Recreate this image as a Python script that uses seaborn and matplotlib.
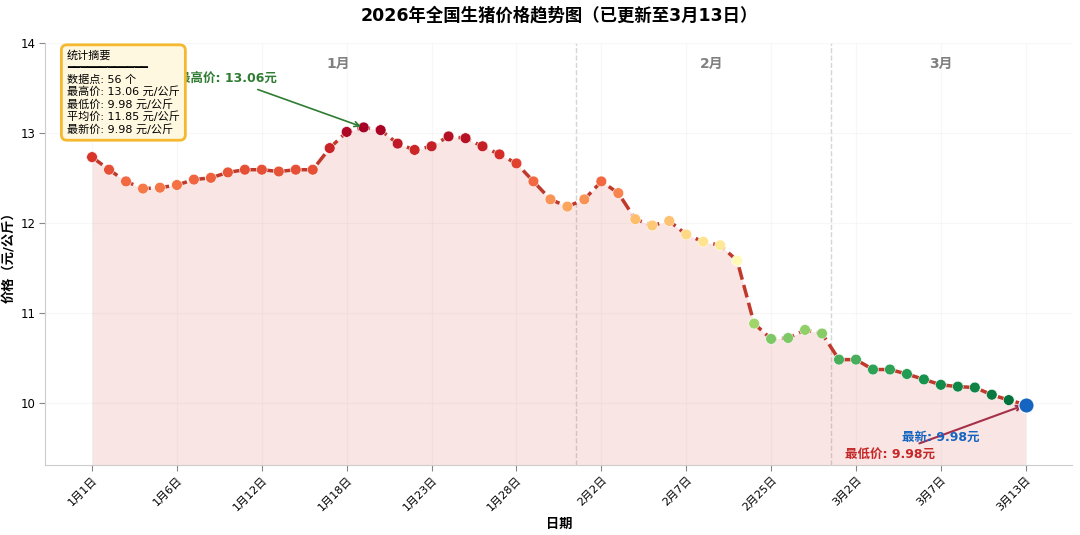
import numpy as np
import pandas as pd
import seaborn as sns
import matplotlib.pyplot as plt

# 数据
months = [1] * 29 + [2] * 15 + [3] * 12
days = [1, 2, 3, 4, 5, 6, 7, 8, 9, 10, 12, 13, 14, 15, 16, 18, 19, 20, 21, 22,
        23, 24, 25, 26, 27, 28, 29, 30, 31,
        1, 2, 3, 4, 5, 6, 7, 8, 9, 10, 24, 25, 26, 27, 28,
        1, 2, 3, 4, 5, 6, 7, 8, 9, 10, 11, 13]
prices = [12.73, 12.59, 12.46, 12.38, 12.39, 12.42, 12.48, 12.50, 12.56, 12.59,
          12.59, 12.57, 12.59, 12.59, 12.83, 13.01, 13.06, 13.03, 12.88, 12.81,
          12.85, 12.96, 12.94, 12.85, 12.76, 12.66, 12.46, 12.26, 12.18, 12.26,
          12.46, 12.33, 12.04, 11.97, 12.02, 11.87, 11.79, 11.75, 11.58, 10.88,
          10.71, 10.72, 10.81, 10.77, 10.48, 10.48, 10.37, 10.37, 10.32, 10.26,
          10.20, 10.18, 10.17, 10.09, 10.03, 9.98]
month_names = ['1月', '2月', '3月']

df = pd.DataFrame({
    'idx': np.arange(len(prices)),
    'price': prices,
    'label': [f'{m}月{d}日' for m, d in zip(months, days)],
    'month': months,
})

sns.set_style('white')
plt.rcParams['font.family'] = ['DejaVu Sans', 'Noto Sans CJK SC']
plt.rcParams['axes.unicode_minus'] = False
for k in ['text.color', 'axes.labelcolor', 'xtick.color', 'ytick.color']:
    plt.rcParams[k] = 'black'

fig, ax = plt.subplots(figsize=(10.8, 5.35), dpi=100)
fig.subplots_adjust(left=0.042, right=0.993, top=0.92, bottom=0.131)

ymin, ymax = 9.31, 14.0
pmax, pmin = df['price'].max(), df['price'].min()

ax.fill_between(df['idx'], df['price'], ymin, color='#D9534F', alpha=0.15, lw=0, zorder=1)
sns.lineplot(data=df, x='idx', y='price', ax=ax, color='#C0392B', lw=2.5,
             linestyle='--', zorder=2)
sns.scatterplot(data=df.iloc[:-1], x='idx', y='price', hue='price', palette='RdYlGn_r',
                hue_norm=(pmin, pmax), s=60, edgecolor='white', linewidth=0.4,
                legend=False, ax=ax, zorder=3)
last = df.iloc[-1]
ax.scatter([last['idx']], [last['price']], s=120, color='#1565C0', edgecolor='white',
           linewidth=0.8, zorder=4)

# 月份分隔与标签
for m in month_names[1:]:
    mi = int(m[0])
    ax.axvline(df.loc[df['month'] == mi, 'idx'].min() - 0.5, color='#d5d5d5',
               ls='--', lw=1, zorder=0)
for m in month_names:
    mi = int(m[0])
    sub = df.loc[df['month'] == mi, 'idx']
    ax.text((sub.min() + sub.max() + 1) / 2, 13.76, m, ha='center', va='center',
            fontsize=10, fontweight='bold', color='#808080')

# 注释
imax = df['price'].idxmax()
ax.annotate(f'最高价: {pmax:.2f}元', xy=(df.loc[imax, 'idx'], pmax), xytext=(8.0, 13.6),
            ha='center', va='center', fontsize=9, fontweight='bold', color='#2E7D32',
            arrowprops=dict(arrowstyle='->', color='#2E7D32', lw=1.2))
ax.annotate(f'最低价: {pmin:.2f}元', xy=(last['idx'], pmin), xytext=(47.0, 9.43),
            ha='center', va='center', fontsize=9, fontweight='bold', color='#C62828',
            arrowprops=dict(arrowstyle='->', color='#A5304A', lw=1.5))
ax.text(50.0, 9.62, f'最新: {last["price"]:.2f}元', ha='center', va='center',
        fontsize=9, fontweight='bold', color='#1565C0')

stats = (f'统计摘要\n' + '━' * 12 + '\n'
         f'数据点: {len(df)} 个\n'
         f'最高价: {pmax:.2f} 元/公斤\n'
         f'最低价: {pmin:.2f} 元/公斤\n'
         f'平均价: {df["price"].mean():.2f} 元/公斤\n'
         f'最新价: {last["price"]:.2f} 元/公斤')
ax.text(0.021, 0.982, stats, transform=ax.transAxes, ha='left', va='top', fontsize=8,
        linespacing=1.2,
        bbox=dict(boxstyle='round,pad=0.5', facecolor='#FFF8E1', edgecolor='#F5B82E', lw=2))

ticks = df['idx'][::5]
ax.set_xticks(ticks)
ax.set_xticklabels(df['label'][::5], rotation=45, ha='right', rotation_mode='anchor', fontsize=8)
ax.set_yticks([10, 11, 12, 13, 14])
ax.tick_params(axis='y', labelsize=8.5, pad=3)
ax.tick_params(axis='x', pad=3)
ax.tick_params(bottom=True, left=True, length=4, color='#888888')
ax.set_ylim(ymin, ymax)
ax.set_xlim(-2.75, 57.75)
ax.grid(True, color='#f0f0f0', lw=0.8, alpha=0.5)

ax.set_title('2026年全国生猪价格趋势图（已更新至3月13日）', fontsize=12.5,
             fontweight='bold', pad=16, color='black')
ax.set_xlabel('日期', fontsize=9.5, fontweight='bold', labelpad=4)
ax.set_ylabel('价格（元/公斤）', fontsize=9.5, fontweight='bold', labelpad=4)
sns.despine(ax=ax)
for s in ['left', 'bottom']:
    ax.spines[s].set_color('#cccccc')

fig.savefig('out.png', dpi=100)
